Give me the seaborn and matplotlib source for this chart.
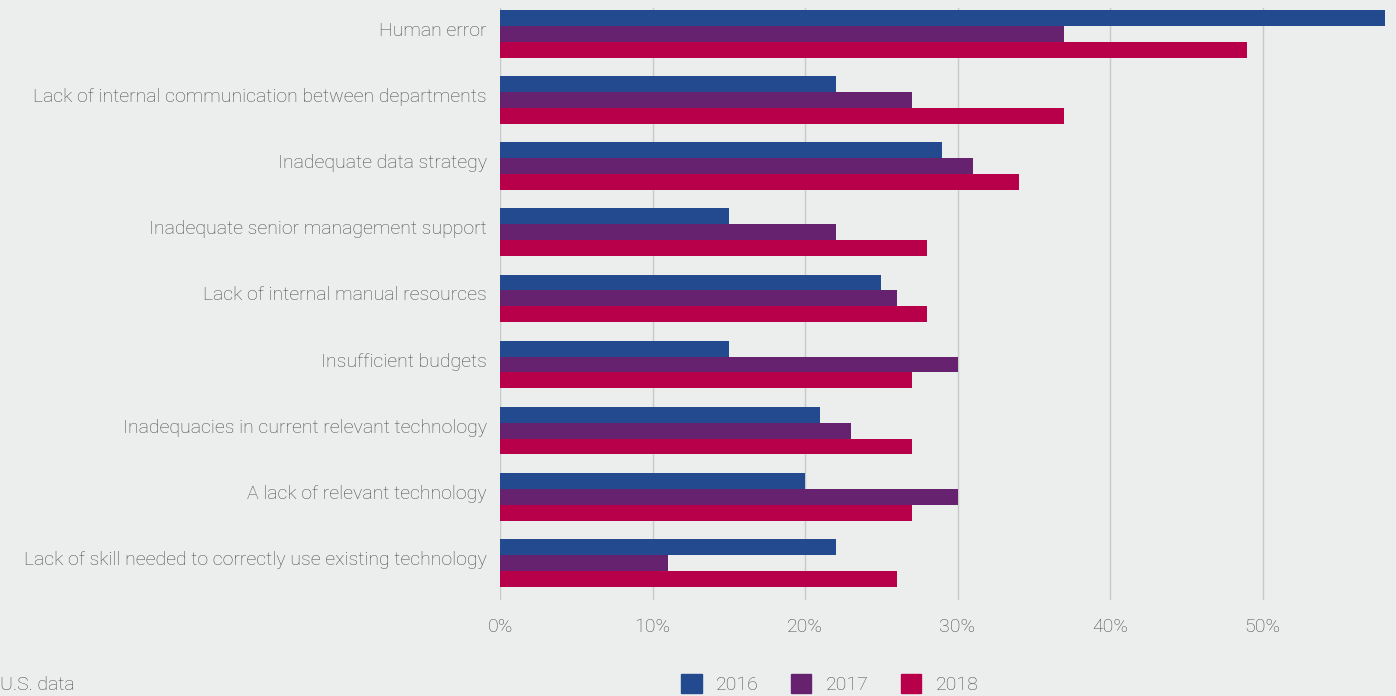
import pandas as pd
import matplotlib.pyplot as plt
import matplotlib.transforms as mtrans
import seaborn as sns

categories = [
    "Human error",
    "Lack of internal communication between departments",
    "Inadequate data strategy",
    "Inadequate senior management support",
    "Lack of internal manual resources",
    "Insufficient budgets",
    "Inadequacies in current relevant technology",
    "A lack of relevant technology",
    "Lack of skill needed to correctly use existing technology",
]
years = ["2016", "2017", "2018"]
v2016 = [58, 22, 29, 15, 25, 15, 21, 20, 22]
v2017 = [37, 27, 31, 22, 26, 30, 23, 30, 11]
v2018 = [49, 37, 34, 28, 28, 27, 27, 27, 26]
colors = ["#234a8e", "#66226f", "#b8004a"]

df = pd.DataFrame({
    "cat": categories * 3,
    "year": [y for y in years for _ in categories],
    "val": v2016 + v2017 + v2018,
})

sns.set_style("white")
plt.rcParams["font.family"] = ["Roboto", "DejaVu Sans"]
bg = "#eceeed"
txt = "#4a4a4a"
fs = 14

fig = plt.figure(figsize=(13.96, 6.96), dpi=100, facecolor=bg)
ax = fig.add_axes([500 / 1396, 1 - 600 / 696, 896 / 1396, 592 / 696])
ax.set_facecolor(bg)

sns.barplot(data=df, y="cat", x="val", hue="year", order=categories,
            hue_order=years, palette=colors, orient="h", width=0.72,
            saturation=1, ax=ax, legend=False, linewidth=0)

ax.set_xlim(0, 58.75)
ax.set_ylim(8.56, -0.39)
ax.set_xticks(range(0, 60, 10))
ax.set_xticklabels([f"{t}%" for t in range(0, 60, 10)])
ax.grid(axis="x", color="#c8cac9", linewidth=1)
ax.set_axisbelow(True)
for s in ax.spines.values():
    s.set_visible(False)
ax.tick_params(axis="both", length=0, labelsize=fs, labelcolor=txt)
ax.tick_params(axis="x", pad=13)
ax.tick_params(axis="y", pad=9.5)
shift = mtrans.ScaledTranslation(0, 5 / 100, fig.dpi_scale_trans)
for lab in ax.get_yticklabels():
    lab.set_transform(lab.get_transform() + shift)
for lab in ax.get_xticklabels() + ax.get_yticklabels():
    lab.set_fontweight("light")
ax.set_xlabel("")
ax.set_ylabel("")

fig.text(0.0, 1 - 685 / 696, "U.S. data", fontsize=fs, color=txt,
         va="center", ha="left", fontweight="light")

handles = [plt.Rectangle((0, 0), 1, 1, color=c) for c in colors]
leg = fig.legend(handles, years, ncol=3, loc="center",
                 bbox_to_anchor=(830 / 1396, 1 - 684 / 696), frameon=False,
                 handlelength=1.05, handleheight=1.1, handletextpad=0.75,
                 columnspacing=1.65, fontsize=fs)
for t in leg.get_texts():
    t.set_color(txt)
    t.set_fontweight("light")

fig.savefig("out.png", dpi=100, facecolor=bg)
